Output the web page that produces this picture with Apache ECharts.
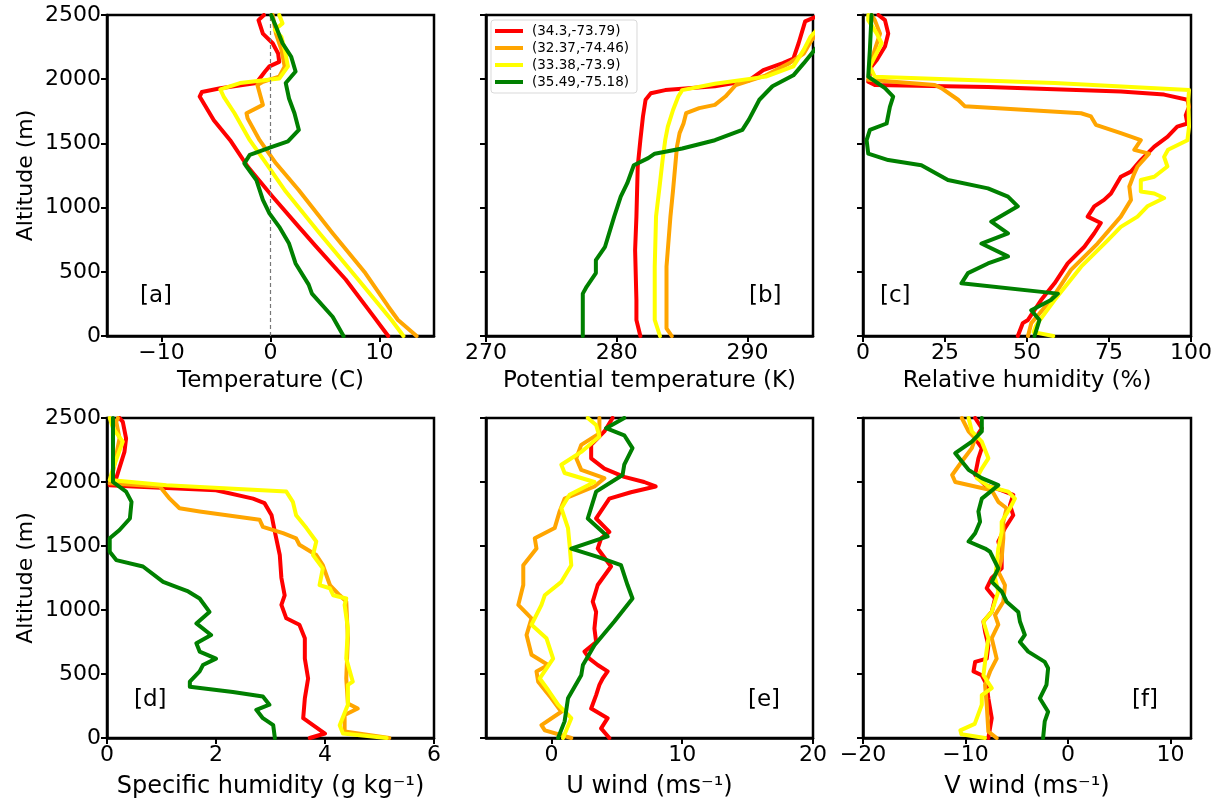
<!DOCTYPE html>
<html><head><meta charset="utf-8">
<script src="https://cdn.jsdelivr.net/npm/echarts@6/dist/echarts.min.js"></script>
<style>html,body{margin:0;padding:0;background:#fff}#c{width:1229px;height:806px}</style>
</head><body><div id="c"></div>
<script>
// ---- Legend / site names ----
const siteNames = ['(34.3,-73.79)', '(32.37,-74.46)', '(33.38,-73.9)', '(35.49,-75.18)'];

// ---- Tick labels ----
const altTicks = [0, 500, 1000, 1500, 2000, 2500];
const tempTicks = [-10, 0, 10];
const thetaTicks = [270, 280, 290];
const rhTicks = [0, 25, 50, 75, 100];
const qTicks = [0, 2, 4, 6];
const uTicks = [0, 10, 20];
const vTicks = [-20, -10, 0, 10];

// ---- [a] Temperature (C) : [value, altitude m] ----
const tempRed = [[10.8,0],[9.3,170],[6.9,440],[4.15,700],[2.6,850],[0.2,1085],[-2.1,1320],[-3.7,1525],[-5.2,1680],[-6.5,1865],[-6.3,1900],[-4.6,1930],[-1.3,1970],[-0.5,2060],[-0.1,2100],[0.8,2135],[0.7,2200],[0.2,2280],[-0.7,2355],[-1.1,2460],[-0.6,2500]];
const tempOrange = [[13.4,0],[11.7,125],[10.8,230],[8.7,490],[5.7,800],[2.6,1135],[0.5,1345],[-1.0,1525],[-2.1,1695],[-2.2,1735],[-0.7,1800],[-1.2,1955],[-0.7,1980],[0.8,2020],[1.3,2100],[1.0,2230],[0.5,2355],[0.2,2500]];
const tempYellow = [[12.2,0],[11.1,125],[8.1,435],[4.5,800],[1.4,1125],[-0.4,1345],[-1.9,1525],[-3.3,1735],[-4.3,1865],[-4.6,1920],[-2.8,1970],[0.8,2005],[1.6,2100],[1.3,2230],[1.0,2330],[0.4,2385],[1.1,2435],[0.8,2500]];
const tempGreen = [[6.7,0],[5.7,150],[3.8,330],[3.5,400],[2.3,565],[1.7,720],[0.8,850],[-0.1,955],[-0.7,1060],[-1.3,1215],[-2.2,1320],[-2.4,1345],[-1.9,1410],[0.2,1475],[1.6,1515],[2.6,1605],[2.2,1735],[1.7,1850],[1.4,1970],[2.3,2060],[1.9,2175],[1.1,2280],[0.5,2410],[0.06,2500]];

// ---- [b] Potential temperature (K) ----
const thetaRed = [[281.8,0],[281.5,125],[281.5,280],[281.4,670],[281.5,930],[281.6,1320],[281.8,1525],[282.0,1710],[282.2,1840],[282.6,1890],[283.7,1915],[287.5,1945],[290.1,1990],[291.2,2070],[292.7,2125],[293.5,2160],[293.9,2280],[294.4,2450],[295.3,2490]];
const thetaOrange = [[284.2,0],[283.8,60],[283.8,540],[284.1,930],[284.3,1135],[284.6,1475],[284.8,1580],[285.1,1655],[285.3,1735],[286.3,1775],[287.5,1800],[288.3,1865],[289.1,1955],[291.4,2030],[293.2,2125],[294.3,2200],[294.9,2305],[295.3,2355]];
const thetaYellow = [[283.3,0],[282.9,125],[282.9,540],[283.0,930],[283.3,1190],[283.5,1370],[283.7,1525],[283.9,1630],[284.3,1760],[284.7,1865],[285.0,1915],[287.5,1965],[291.4,2020],[293.5,2100],[294.3,2230],[294.8,2330],[295.3,2385]];
const thetaGreen = [[277.4,0],[277.4,330],[277.7,385],[278.4,490],[278.4,590],[279.1,695],[279.8,930],[280.3,1085],[280.8,1190],[281.3,1330],[282.4,1385],[282.9,1420],[285.0,1460],[287.5,1525],[289.6,1605],[290.1,1685],[290.9,1840],[291.9,1945],[293.5,2030],[294.3,2125],[294.9,2200],[295.3,2250]];

// ---- [c] Relative humidity (%) ----
const rhRed = [[47.2,0],[48.7,100],[50.3,125],[54.3,280],[58.4,410],[62.4,565],[67.5,695],[70.5,800],[72.5,880],[68.5,930],[70.5,1010],[73.5,1060],[75.6,1110],[78.6,1240],[81.7,1280],[84.7,1370],[88.8,1475],[92.8,1550],[95.8,1630],[98.9,1655],[98.4,1720],[99.4,1785],[98.9,1840],[91.8,1880],[78.6,1905],[38.1,1940],[3.6,1955],[1.6,1980],[2.6,2100],[4.2,2150],[6.7,2255],[7.7,2355],[6.7,2460],[4.7,2500]];
const rhOrange = [[50.3,0],[51.3,100],[57.3,280],[63.4,515],[71.5,720],[78.6,930],[81.7,1060],[81.2,1165],[82.7,1265],[83.7,1320],[87.2,1420],[82.7,1450],[84.7,1525],[78.6,1580],[71.0,1645],[69.5,1710],[66.5,1735],[31.0,1790],[29.0,1840],[23.9,1930],[21.9,1955],[1.6,1995],[2.1,2100],[3.6,2230],[5.2,2355],[3.6,2460],[2.6,2500]];
const rhYellow = [[58.0,0],[52.0,30],[52.8,85],[58.4,280],[66.5,540],[74.6,745],[78.6,850],[83.7,930],[86.7,1010],[91.8,1075],[88.8,1110],[84.7,1125],[84.7,1215],[88.8,1240],[92.8,1320],[91.8,1395],[93.0,1450],[98.9,1525],[99.4,1630],[99.2,1840],[99.4,1915],[58.4,1970],[3.6,2020],[2.1,2100],[5.7,2280],[4.2,2355],[1.6,2460],[1.6,2500]];
const rhGreen = [[52.3,0],[53.8,125],[51.3,200],[57.3,280],[59.4,330],[30.0,410],[32.0,490],[38.1,565],[44.2,620],[36.1,720],[44.2,800],[39.1,890],[47.2,1010],[44.2,1085],[38.1,1150],[25.9,1215],[17.8,1330],[7.7,1370],[1.6,1420],[1.1,1525],[2.1,1605],[7.2,1655],[8.2,1785],[9.2,1865],[6.7,1930],[1.6,2020],[2.1,2230],[2.6,2500]];

// ---- [d] Specific humidity (g/kg) ----
const qRed = [[3.72,0],[4.0,35],[3.78,100],[3.6,155],[3.63,310],[3.69,465],[3.63,620],[3.63,780],[3.53,885],[3.29,935],[3.2,1040],[3.26,1115],[3.2,1250],[3.17,1430],[3.08,1610],[3.02,1740],[2.89,1835],[2.68,1870],[2.0,1935],[0.48,1965],[0.05,1975],[0.17,2030],[0.32,2235],[0.35,2340],[0.29,2470],[0.23,2500]];
const qOrange = [[5.18,0],[4.36,50],[4.36,180],[4.6,230],[4.42,270],[4.39,465],[4.42,780],[4.39,1065],[4.27,1115],[4.09,1195],[3.96,1350],[3.84,1430],[3.53,1510],[3.47,1560],[3.23,1600],[2.86,1650],[2.8,1705],[1.7,1770],[1.33,1795],[1.15,1870],[0.97,1965],[0.05,1990],[0.11,2080],[0.23,2340],[0.17,2470],[0.2,2500]];
const qYellow = [[5.13,0],[4.33,35],[4.27,100],[4.42,260],[4.42,415],[4.51,440],[4.39,620],[4.42,855],[4.36,1040],[4.39,1090],[4.15,1115],[4.09,1170],[3.9,1195],[3.96,1325],[3.78,1430],[3.84,1535],[3.66,1640],[3.47,1740],[3.41,1845],[3.29,1925],[1.09,1975],[0.05,2015],[0.11,2105],[0.29,2315],[0.11,2420],[0.05,2500]];
const qGreen = [[3.08,0],[3.05,100],[2.86,155],[2.74,220],[2.98,260],[2.86,325],[2.31,360],[1.52,400],[1.52,440],[1.7,520],[1.76,570],[2.0,620],[1.7,675],[1.64,740],[1.91,805],[1.64,895],[1.88,985],[1.7,1090],[1.49,1145],[1.27,1180],[1.03,1220],[0.66,1340],[0.17,1390],[0.05,1455],[0.05,1560],[0.23,1625],[0.42,1715],[0.45,1845],[0.35,1925],[0.11,2000],[0.11,2210],[0.11,2500]];

// ---- [e] U wind (m/s) ----
const uRed = [[4.43,0],[3.8,75],[4.3,155],[3.04,230],[3.42,335],[3.67,415],[3.92,465],[4.3,520],[3.54,570],[2.91,620],[2.53,675],[3.42,750],[3.29,855],[3.42,985],[3.16,1065],[3.54,1195],[4.56,1340],[3.54,1480],[3.8,1560],[4.43,1610],[3.42,1715],[4.43,1870],[6.08,1920],[7.97,1965],[7.09,2000],[5.57,2040],[4.05,2105],[3.04,2185],[3.04,2290],[4.05,2395],[4.68,2500]];
const uOrange = [[1.52,0],[-0.5,60],[-0.76,100],[0.76,205],[0.0,310],[-1.01,440],[-1.14,520],[-0.25,570],[-1.52,650],[-1.9,805],[-1.52,935],[-2.53,1040],[-2.15,1195],[-2.15,1350],[-1.14,1480],[-1.27,1560],[0.25,1640],[0.63,1770],[1.01,1870],[3.29,1965],[4.05,2030],[2.28,2095],[1.9,2185],[2.28,2290],[3.67,2380],[3.67,2500]];
const uYellow = [[0.89,0],[1.52,155],[0.51,260],[-0.25,375],[-0.89,465],[0.13,620],[-0.38,780],[-1.52,885],[-0.76,1040],[-0.51,1115],[0.76,1220],[1.52,1350],[1.39,1510],[1.27,1640],[0.76,1795],[1.39,1900],[3.29,2000],[1.01,2070],[0.76,2135],[2.28,2235],[3.67,2355],[3.42,2445],[2.78,2500]];
const uGreen = [[0.51,0],[1.01,130],[1.27,310],[2.28,490],[2.41,570],[3.29,725],[4.81,910],[6.2,1090],[5.82,1195],[5.32,1350],[3.54,1415],[1.52,1480],[4.3,1575],[2.78,1715],[3.42,1925],[5.44,2055],[5.57,2135],[6.2,2265],[5.57,2365],[4.18,2420],[5.57,2500]];

// ---- [f] V wind (m/s) ----
const vRed = [[-7.77,0],[-7.44,155],[-7.77,310],[-7.93,415],[-8.41,490],[-9.22,520],[-9.06,595],[-7.93,620],[-7.77,725],[-8.09,830],[-8.25,910],[-7.44,985],[-7.12,1090],[-7.93,1170],[-7.44,1250],[-6.47,1325],[-6.47,1430],[-6.8,1535],[-6.15,1640],[-5.34,1740],[-5.66,1820],[-5.34,1900],[-6.47,1935],[-8.09,1975],[-9.06,2055],[-8.74,2185],[-8.41,2265],[-9.06,2340],[-8.41,2420],[-9.06,2500]];
const vOrange = [[-6.96,0],[-7.77,50],[-7.93,260],[-8.09,415],[-7.6,520],[-6.96,620],[-7.44,780],[-6.8,885],[-7.12,960],[-6.31,1065],[-6.15,1195],[-6.8,1300],[-6.47,1405],[-6.31,1560],[-6.31,1690],[-5.99,1795],[-6.8,1845],[-7.44,1935],[-11.0,2000],[-11.3,2055],[-10.36,2160],[-9.38,2265],[-9.06,2340],[-9.7,2395],[-10.36,2500]];
const vYellow = [[-8.1,0],[-10.4,30],[-10.5,60],[-9.1,110],[-8.41,260],[-8.41,335],[-7.44,390],[-8.25,490],[-8.09,595],[-7.77,780],[-8.25,910],[-7.44,985],[-6.8,1145],[-7.12,1250],[-6.96,1350],[-6.8,1480],[-6.47,1610],[-6.47,1690],[-5.66,1795],[-5.18,1870],[-5.83,1925],[-7.77,1965],[-8.9,2030],[-8.41,2105],[-7.77,2185],[-8.41,2315],[-9.38,2395],[-9.7,2500]];
const vGreen = [[-2.43,0],[-2.27,130],[-1.94,205],[-2.75,310],[-2.1,415],[-1.94,545],[-2.27,595],[-3.88,675],[-4.69,750],[-4.21,805],[-4.69,910],[-4.85,985],[-5.99,1065],[-6.47,1145],[-7.44,1220],[-6.8,1325],[-7.6,1455],[-8.09,1480],[-9.7,1535],[-9.06,1600],[-8.58,1690],[-8.74,1770],[-8.41,1870],[-6.8,1975],[-8.41,2030],[-9.7,2095],[-11.0,2225],[-9.38,2315],[-8.41,2395],[-8.41,2500]];

// ---- Panels (built from the arrays above) ----
const panels = [
  {name: 'Temperature (C)', min: -15, max: 15, ticks: tempTicks, series: [tempRed, tempOrange, tempYellow, tempGreen], tag: '[a]'},
  {name: 'Potential temperature (K)', min: 270, max: 295, ticks: thetaTicks, series: [thetaRed, thetaOrange, thetaYellow, thetaGreen], tag: '[b]'},
  {name: 'Relative humidity (%)', min: 0, max: 100, ticks: rhTicks, series: [rhRed, rhOrange, rhYellow, rhGreen], tag: '[c]'},
  {name: 'Specific humidity (g kg\u207B\u00B9)', min: 0, max: 6, ticks: qTicks, series: [qRed, qOrange, qYellow, qGreen], tag: '[d]'},
  {name: 'U wind (ms\u207B\u00B9)', min: -5, max: 20, ticks: uTicks, series: [uRed, uOrange, uYellow, uGreen], tag: '[e]'},
  {name: 'V wind (ms\u207B\u00B9)', min: -20, max: 12, ticks: vTicks, series: [vRed, vOrange, vYellow, vGreen], tag: '[f]'}
];

// ---- Styles / layout ----
const palette = ['#ff0000', '#ffa500', '#ffff00', '#008000'];
const FONT = 'DejaVu Sans';
const gridBoxes = [
  {left: 107, top: 15, width: 327, height: 321},
  {left: 486, top: 15, width: 327, height: 321},
  {left: 863, top: 15, width: 328, height: 321},
  {left: 107, top: 418, width: 327, height: 320},
  {left: 486, top: 418, width: 327, height: 320},
  {left: 863, top: 418, width: 328, height: 320}
];
const tagPos = [[140, 285], [749, 285], [880, 285], [134, 689], [748, 689], [1132, 689]];
const fmtX = v => String(v).replace('-', '\u2212');
const fmtY = v => String(v);

const chart = echarts.init(document.getElementById('c'), null, {renderer: 'canvas'});
const grid = [], xAxis = [], yAxis = [], series = [], graphic = [];

panels.forEach((p, i) => {
  grid.push(Object.assign({show: true, borderColor: '#000', borderWidth: 2.5, backgroundColor: 'transparent', containLabel: false}, gridBoxes[i]));
  xAxis.push({
    type: 'value', gridIndex: i, min: p.min, max: p.max,
    name: p.name, nameLocation: 'middle', nameGap: i < 3 ? 34 : 37,
    nameTextStyle: {fontFamily: FONT, fontSize: i < 3 ? 23 : 24, color: '#000'},
    axisLine: {show: true, onZero: false, lineStyle: {color: '#000', width: 2.5}},
    axisTick: {show: true, inside: false, length: 6, customValues: p.ticks, lineStyle: {color: '#000', width: 2}},
    axisLabel: {show: true, customValues: p.ticks, formatter: fmtX, fontFamily: FONT, fontSize: 22, color: '#000', margin: 6},
    splitLine: {show: false}
  });
  const showY = (i % 3 === 0);
  yAxis.push({
    type: 'value', gridIndex: i, min: 0, max: 2500,
    name: showY ? 'Altitude (m)' : '', nameLocation: 'middle', nameGap: 70, nameRotate: 90,
    nameTextStyle: {fontFamily: FONT, fontSize: 22, color: '#000'},
    axisLine: {show: true, onZero: false, lineStyle: {color: '#000', width: 2.5}},
    axisTick: {show: true, inside: false, length: 6, customValues: altTicks, lineStyle: {color: '#000', width: 2}},
    axisLabel: {show: showY, customValues: altTicks, formatter: fmtY, fontFamily: FONT, fontSize: 22, color: '#000', margin: 6},
    splitLine: {show: false}
  });
  p.series.forEach((d, k) => {
    const s = {
      type: 'line', name: siteNames[k], xAxisIndex: i, yAxisIndex: i, data: d,
      showSymbol: false, symbol: 'none', clip: true, animation: false,
      lineStyle: {color: palette[k], width: 4, join: 'round', cap: 'round'},
      itemStyle: {color: palette[k]}, z: 2 + k
    };
    if (i === 0 && k === 0) {
      s.markLine = {silent: true, symbol: 'none', label: {show: false}, animation: false,
        lineStyle: {color: '#777', type: [4, 3], width: 1.2}, data: [{xAxis: 0}]};
    }
    series.push(s);
  });
  graphic.push({type: 'text', left: tagPos[i][0], top: tagPos[i][1], z: 10,
    style: {text: p.tag, font: '23px "DejaVu Sans"', fill: '#000'}});
});

chart.setOption({
  backgroundColor: '#fff',
  animation: false,
  grid, xAxis, yAxis, series, graphic,
  legend: {
    show: true, orient: 'vertical', left: 491, top: 20,
    data: siteNames, icon: 'rect', itemWidth: 28, itemHeight: 4, itemGap: 3,
    textStyle: {fontFamily: FONT, fontSize: 13.5, color: '#000', padding: [0, 0, 0, 4]},
    backgroundColor: 'rgba(255,255,255,0.85)', borderColor: '#d9d9d9', borderWidth: 1, borderRadius: 3,
    padding: [4, 8, 4, 4], selectedMode: false
  }
});
</script>
</body></html>
